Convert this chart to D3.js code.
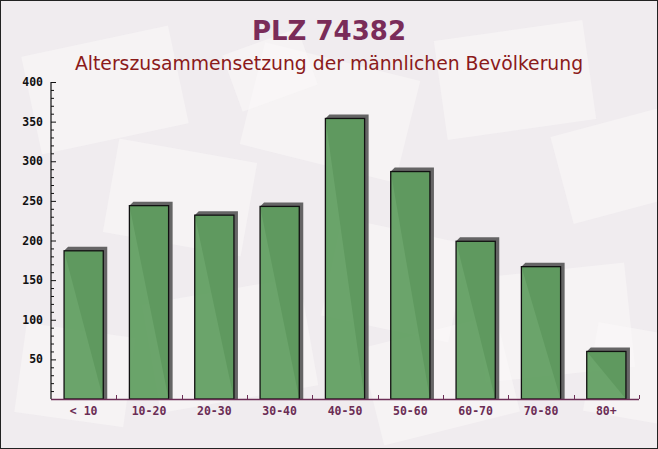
<!DOCTYPE html>
<html>
<head>
<meta charset="utf-8">
<script src="https://cdn.jsdelivr.net/npm/d3@7"></script>
<style>
  body { margin: 0; background: #fff; }
  svg { display: block; }
</style>
</head>
<body>
<svg id="chart" width="658" height="449"></svg>
<script>
// chart data
let ageGroups = ["< 10", "10-20", "20-30", "30-40", "40-50", "50-60", "60-70", "70-80", "80+"];
let maleCounts = [187, 244, 232, 243, 354, 287, 199, 167, 60];
let yTicks = [50, 100, 150, 200, 250, 300, 350, 400];
let titleText = "PLZ 74382";
let subtitleText = "Alterszusammensetzung der männlichen Bevölkerung";

const W = 658, H = 449;
const plotLeft = 51, plotRight = 639, plotTop = 82, plotBottom = 399;

let svg = d3.select("#chart");

// background
svg.append("rect").attr("width", W).attr("height", H).attr("fill", "#f0ecef");

// faint envelope shapes in the background
let deco = [
  [30, 40, 150, 100, -12], [250, 60, 160, 105, 14], [440, 30, 150, 100, -8],
  [110, 150, 140, 95, 10], [560, 120, 120, 90, -15], [150, 290, 160, 110, -10],
  [330, 230, 130, 100, 12], [480, 270, 150, 105, -6], [20, 330, 110, 90, 8],
  [370, 330, 140, 100, -14], [590, 330, 100, 90, 10], [230, 40, 80, 60, -20]
];
let dg = svg.append("g");
deco.forEach(d => {
  dg.append("rect")
    .attr("x", d[0]).attr("y", d[1]).attr("width", d[2]).attr("height", d[3])
    .attr("fill", "#fbf9f9").attr("opacity", 0.5)
    .attr("transform", `rotate(${d[4]},${d[0] + d[2] / 2},${d[1] + d[3] / 2})`);
});

// titles
svg.append("text").attr("x", 329).attr("y", 40).attr("text-anchor", "middle")
  .attr("font-family", "DejaVu Sans, sans-serif").attr("font-weight", "bold")
  .attr("font-size", 26).attr("fill", "#7a2c59").text(titleText);
svg.append("text").attr("x", 329).attr("y", 70).attr("text-anchor", "middle")
  .attr("font-family", "DejaVu Sans, sans-serif")
  .attr("font-size", 18.8).attr("fill", "#8b1a1a").text(subtitleText);

// scales
let x = d3.scaleBand().domain(ageGroups).range([plotLeft, plotRight]).paddingInner(0.4).paddingOuter(0.2);
let y = d3.scaleLinear().domain([0, 400]).range([plotBottom, plotTop]);

// bars with a dark offset shadow
let bars = svg.append("g");
ageGroups.forEach((g, i) => {
  let bx = x(g), bw = x.bandwidth(), by = y(maleCounts[i]);
  bars.append("polygon")
    .attr("points", [[bx, by], [bx + 4, by - 4], [bx + bw + 4, by - 4], [bx + bw + 4, plotBottom], [bx + bw, plotBottom]].join(" "))
    .attr("fill", "#555").attr("opacity", 0.9);
  bars.append("rect")
    .attr("x", bx).attr("y", by).attr("width", bw).attr("height", plotBottom - by)
    .attr("fill", "#5e9d5e").attr("fill-opacity", 0.92)
    .attr("stroke", "#111").attr("stroke-width", 1.3);
});

// y axis: minor ticks every 10, labelled every 50, ticks pointing inward
let ya = svg.append("g");
ya.append("line").attr("x1", plotLeft).attr("x2", plotLeft).attr("y1", plotTop).attr("y2", plotBottom)
  .attr("stroke", "#111").attr("stroke-width", 1.2);
d3.range(10, 401, 10).forEach(v => {
  let major = v % 50 === 0;
  ya.append("line").attr("x1", plotLeft).attr("x2", plotLeft + (major ? 5 : 3))
    .attr("y1", y(v) + 0.5).attr("y2", y(v) + 0.5).attr("stroke", "#111").attr("stroke-width", 1);
});
ya.selectAll("text").data(yTicks).join("text")
  .attr("x", plotLeft - 8).attr("y", d => y(d) + 4).attr("text-anchor", "end")
  .attr("font-family", "DejaVu Sans Mono, monospace").attr("font-weight", "bold")
  .attr("font-size", 11.5).attr("fill", "#111").text(d => d);

// x axis
let xa = svg.append("g");
xa.append("line").attr("x1", plotLeft).attr("x2", plotRight).attr("y1", plotBottom + 0.5).attr("y2", plotBottom + 0.5)
  .attr("stroke", "#6b2d55").attr("stroke-width", 1.3);
d3.range(1, ageGroups.length + 1).forEach(k => {
  let tx = Math.round(plotLeft + (plotRight - plotLeft) * k / ageGroups.length) + 0.5;
  xa.append("line").attr("x1", tx).attr("x2", tx).attr("y1", plotBottom).attr("y2", plotBottom - 4)
    .attr("stroke", "#6b2d55").attr("stroke-width", 1);
});
xa.selectAll("text").data(ageGroups).join("text")
  .attr("x", d => x(d) + x.bandwidth() / 2).attr("y", plotBottom + 16).attr("text-anchor", "middle")
  .attr("font-family", "DejaVu Sans Mono, monospace").attr("font-weight", "bold")
  .attr("font-size", 11.5).attr("fill", "#6b2d55").text(d => d);

// outer frame
svg.append("rect").attr("x", 0.5).attr("y", 0.5).attr("width", W - 1).attr("height", H - 1)
  .attr("fill", "none").attr("stroke", "#222").attr("stroke-width", 1);
</script>
</body>
</html>
